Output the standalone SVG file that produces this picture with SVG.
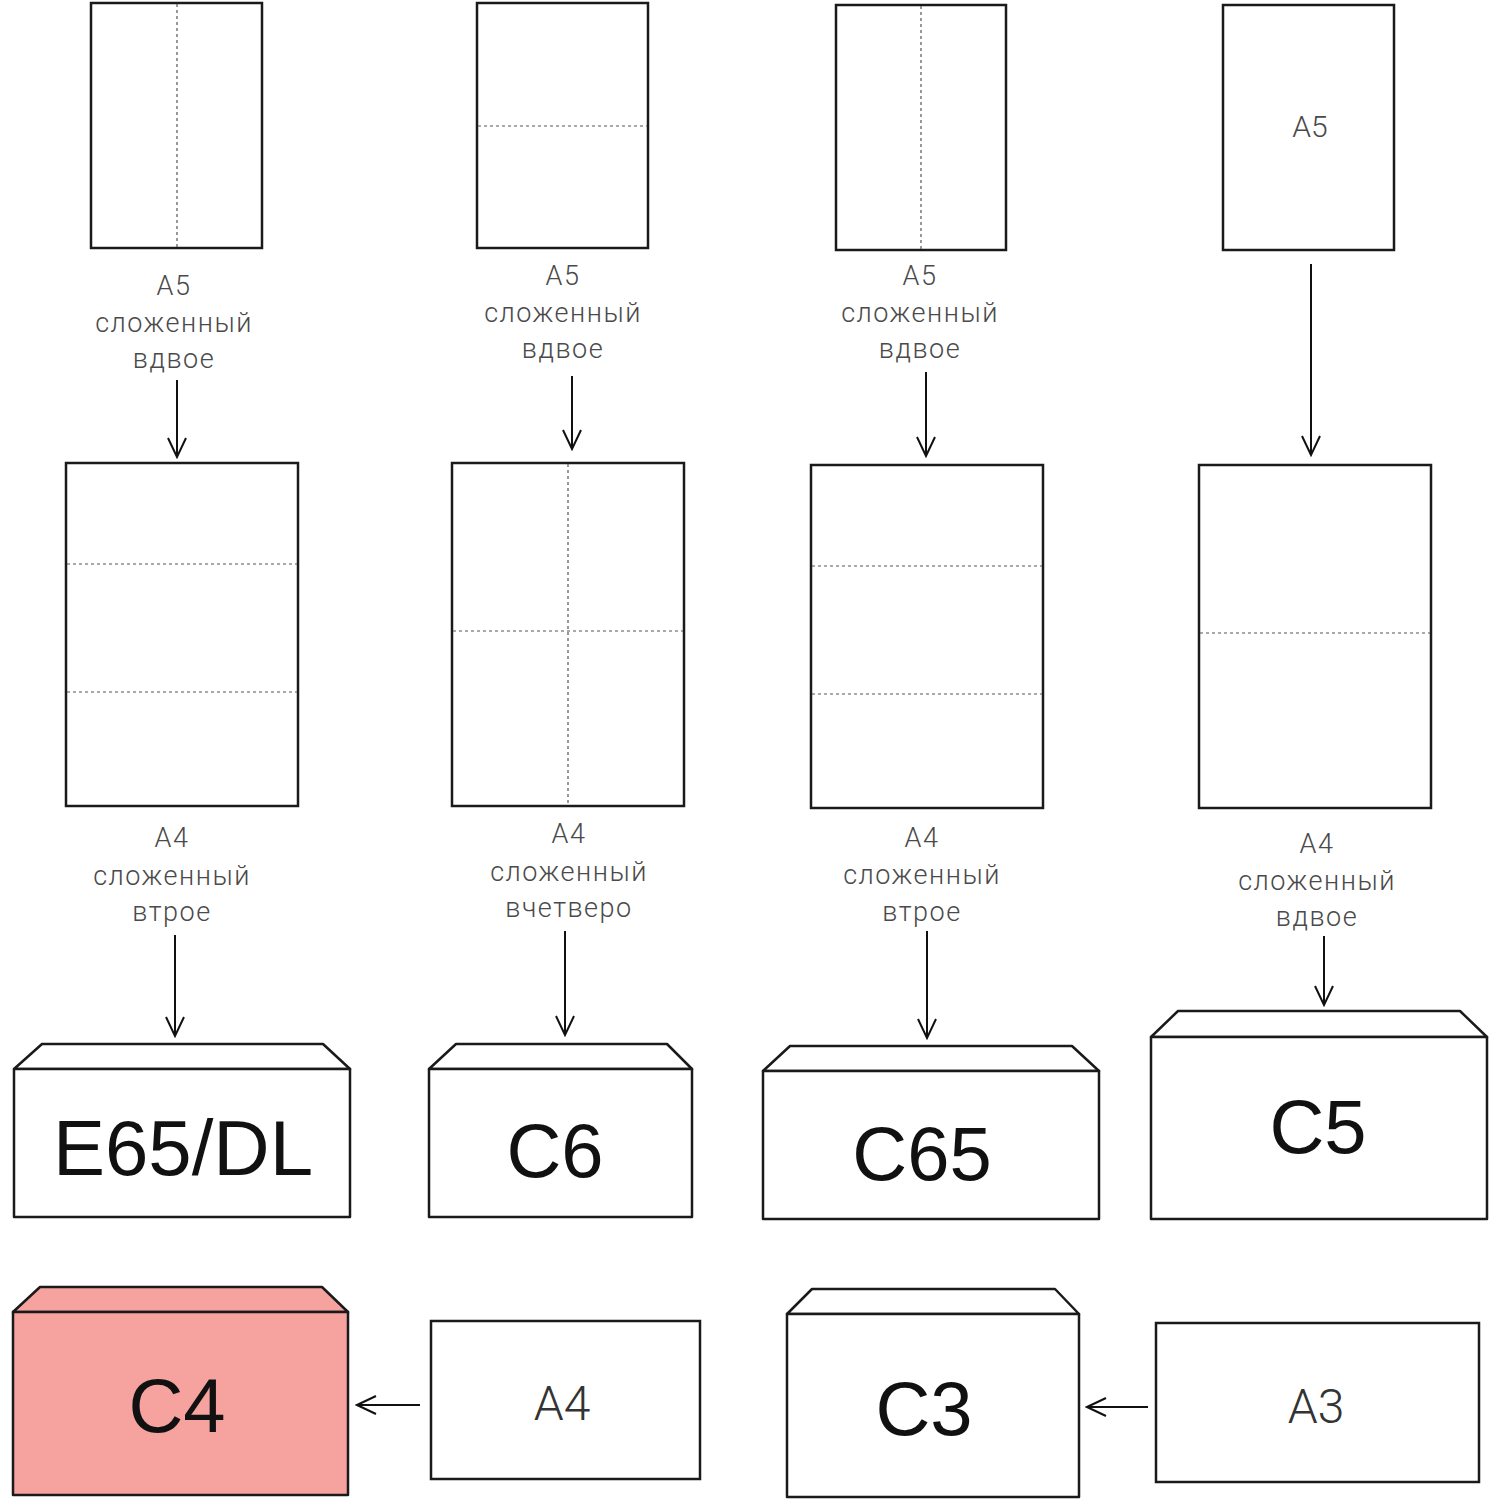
<svg xmlns="http://www.w3.org/2000/svg" width="1500" height="1500" viewBox="0 0 1500 1500">
<defs>
<style>
.sheet{fill:#fff;stroke:#1a1a1a;stroke-width:2.5}
.fold{fill:none;stroke:#555;stroke-width:1.2;stroke-dasharray:3 3}
.env{fill:#fff;stroke:#1a1a1a;stroke-width:2.5;stroke-linejoin:round}
.pink{fill:#f6a3a0}
.lbl{font-family:Roboto,"Liberation Sans",sans-serif;font-weight:300;font-size:27px;fill:#4a4a4a;text-anchor:middle;letter-spacing:1.5px}
.big{font-family:"Liberation Sans",Arial,sans-serif;font-size:76px;fill:#111;text-anchor:middle}
.mid{font-family:Roboto,"Liberation Sans",sans-serif;font-weight:300;font-size:48px;fill:#333;text-anchor:middle}
.arr{fill:none;stroke:#111;stroke-width:2;marker-end:url(#ah)}
</style>
<marker id="ah" viewBox="0 0 24 24" refX="22" refY="12" markerWidth="24" markerHeight="24" markerUnits="userSpaceOnUse" orient="auto">
<path d="M3,3 L22,12 L3,21" fill="none" stroke="#111" stroke-width="2"/>
</marker>
</defs>

<g id="sheet-a5-1">
<rect class="sheet" x="91" y="3" width="171" height="245"/>
<line class="fold" x1="177" y1="4" x2="177" y2="247"/>
<text class="lbl" x="174" y="295">A5</text>
<text class="lbl" x="174" y="332">сложенный</text>
<text class="lbl" x="174" y="368">вдвое</text>
</g>
<g id="sheet-a5-2">
<rect class="sheet" x="477" y="3" width="171" height="245"/>
<line class="fold" x1="478" y1="126" x2="647" y2="126"/>
<text class="lbl" x="563" y="285">A5</text>
<text class="lbl" x="563" y="322">сложенный</text>
<text class="lbl" x="563" y="358">вдвое</text>
</g>
<g id="sheet-a5-3">
<rect class="sheet" x="836" y="5" width="170" height="245"/>
<line class="fold" x1="921" y1="6" x2="921" y2="249"/>
<text class="lbl" x="920" y="285">A5</text>
<text class="lbl" x="920" y="322">сложенный</text>
<text class="lbl" x="920" y="358">вдвое</text>
</g>
<g id="sheet-a5-4">
<rect class="sheet" x="1223" y="5" width="171" height="245"/>
<text class="lbl" x="1310" y="137" style="font-size:30px;letter-spacing:0">A5</text>
</g>

<g id="sheet-a4-1">
<rect class="sheet" x="66" y="463" width="232" height="343"/>
<line class="fold" x1="67" y1="564" x2="297" y2="564"/>
<line class="fold" x1="67" y1="692" x2="297" y2="692"/>
<text class="lbl" x="172" y="847">A4</text>
<text class="lbl" x="172" y="885">сложенный</text>
<text class="lbl" x="172" y="921">втрое</text>
</g>
<g id="sheet-a4-2">
<rect class="sheet" x="452" y="463" width="232" height="343"/>
<line class="fold" x1="568" y1="464" x2="568" y2="805"/>
<line class="fold" x1="453" y1="631" x2="683" y2="631"/>
<text class="lbl" x="569" y="843">A4</text>
<text class="lbl" x="569" y="881">сложенный</text>
<text class="lbl" x="569" y="917">вчетверо</text>
</g>
<g id="sheet-a4-3">
<rect class="sheet" x="811" y="465" width="232" height="343"/>
<line class="fold" x1="812" y1="566" x2="1042" y2="566"/>
<line class="fold" x1="812" y1="694" x2="1042" y2="694"/>
<text class="lbl" x="922" y="847">A4</text>
<text class="lbl" x="922" y="884">сложенный</text>
<text class="lbl" x="922" y="921">втрое</text>
</g>
<g id="sheet-a4-4">
<rect class="sheet" x="1199" y="465" width="232" height="343"/>
<line class="fold" x1="1200" y1="633" x2="1430" y2="633"/>
<text class="lbl" x="1317" y="853">A4</text>
<text class="lbl" x="1317" y="890">сложенный</text>
<text class="lbl" x="1317" y="926">вдвое</text>
</g>

<g id="env-e65dl">
<path class="env" d="M14,1069 L42,1044 L323,1044 L350,1069 Z"/>
<rect class="env" x="14" y="1069" width="336" height="148"/>
<text class="big" x="183" y="1175" style="font-size:78px">E65/DL</text>
</g>
<g id="env-c6">
<path class="env" d="M429,1069 L456,1044 L667,1044 L692,1069 Z"/>
<rect class="env" x="429" y="1069" width="263" height="148"/>
<text class="big" x="555" y="1177">C6</text>
</g>
<g id="env-c65">
<path class="env" d="M763,1071 L790,1046 L1072,1046 L1099,1071 Z"/>
<rect class="env" x="763" y="1071" width="336" height="148"/>
<text class="big" x="922" y="1180">C65</text>
</g>
<g id="env-c5">
<path class="env" d="M1151,1037 L1178,1011 L1460,1011 L1487,1037 Z"/>
<rect class="env" x="1151" y="1037" width="336" height="182"/>
<text class="big" x="1318" y="1153">C5</text>
</g>

<g id="env-c4">
<path class="env pink" d="M13,1312 L40,1287 L322,1287 L348,1312 Z"/>
<rect class="env pink" x="13" y="1312" width="335" height="183"/>
<text class="big" x="177" y="1432">C4</text>
</g>
<g id="sheet-a4-flat">
<rect class="sheet" x="431" y="1321" width="269" height="158"/>
<text class="mid" x="562" y="1420">A4</text>
</g>
<g id="env-c3">
<path class="env" d="M787,1314 L812,1289 L1055,1289 L1079,1314 Z"/>
<rect class="env" x="787" y="1314" width="292" height="183"/>
<text class="big" x="924" y="1435">C3</text>
</g>
<g id="sheet-a3">
<rect class="sheet" x="1156" y="1323" width="323" height="159"/>
<text class="mid" x="1316" y="1423">A3</text>
</g>

<g id="connectors">
<line class="arr" x1="177" y1="380" x2="177" y2="457"/>
<line class="arr" x1="572" y1="376" x2="572" y2="449"/>
<line class="arr" x1="926" y1="372" x2="926" y2="456"/>
<line class="arr" x1="1311" y1="264" x2="1311" y2="455"/>
<line class="arr" x1="175" y1="935" x2="175" y2="1036"/>
<line class="arr" x1="565" y1="931" x2="565" y2="1035"/>
<line class="arr" x1="927" y1="931" x2="927" y2="1038"/>
<line class="arr" x1="1324" y1="936" x2="1324" y2="1005"/>
<line class="arr" x1="420" y1="1405" x2="357" y2="1405"/>
<line class="arr" x1="1148" y1="1407" x2="1087" y2="1407"/>
</g>
</svg>
